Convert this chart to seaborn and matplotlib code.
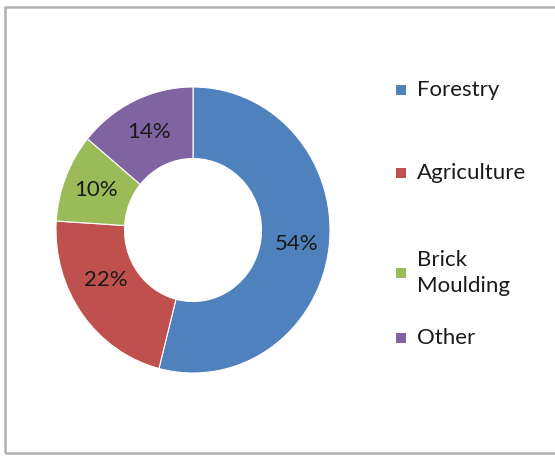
import matplotlib
matplotlib.use("Agg")
import matplotlib.pyplot as plt
import seaborn as sns
from matplotlib.patches import Rectangle

# Data
sectors = ["Forestry", "Agriculture", "Brick\nMoulding", "Other"]
shares = [54, 22, 10, 14]
colors = ["#4F81BD", "#C0504D", "#9BBB59", "#8064A2"]

sns.set_theme(style="white")
plt.rcParams["font.family"] = ["Lato", "DejaVu Sans"]

fig = plt.figure(figsize=(5.55, 4.57), dpi=100)

# Outer frame
fig.patches.append(Rectangle((5 / 555, 4 / 457), 1.0, 446 / 457, transform=fig.transFigure,
                             fill=False, edgecolor="#b0b0b0", linewidth=1.8))

# Donut
ax = fig.add_axes([56 / 555, 84 / 457, 274 / 555, 286 / 457])
wedges, texts, autotexts = ax.pie(
    shares, colors=colors, startangle=90, counterclock=False,
    autopct="%d%%", pctdistance=0.76,
    wedgeprops=dict(width=0.5, edgecolor="white", linewidth=0.8),
    textprops=dict(fontsize=16, color="#1a1a1a"))
ax.set_aspect("auto")
ax.set_xlim(-1, 1)
ax.set_ylim(-1, 1)
ax.axis("off")

# nudge the 22% label up a little, as in the original
x22, y22 = autotexts[1].get_position()
autotexts[1].set_position((x22 - 0.02, y22 + 0.1))

# Legend, laid out like the original
legend_y = [90, 173, 273, 338]
for w, lab, y in zip(wedges, sectors, legend_y):
    fy = 1 - y / 457
    fig.patches.append(Rectangle((396 / 555, fy - 5 / 457), 10 / 555, 10 / 457,
                                 transform=fig.transFigure, facecolor=w.get_facecolor(),
                                 edgecolor="none"))
    fig.text(417 / 555, fy, lab, fontsize=16, color="#1a1a1a", va="center", ha="left",
             linespacing=1.4)

fig.savefig("out.png", dpi=100)
